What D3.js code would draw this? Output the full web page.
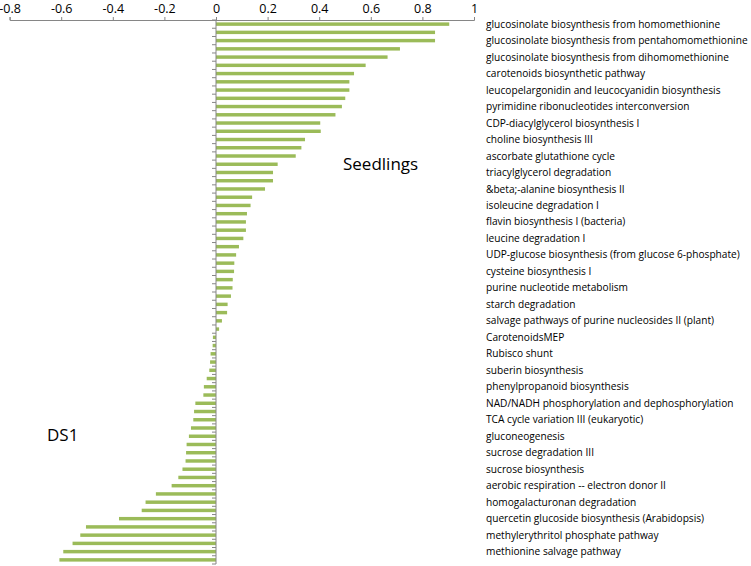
<!DOCTYPE html>
<html>
<head>
<meta charset="utf-8">
<script src="https://cdn.jsdelivr.net/npm/d3@7"></script>
<style>
html,body{margin:0;padding:0;background:#fff;}
svg text{font-family:"Open Sans","Liberation Sans",sans-serif;fill:#000;}
</style>
</head>
<body>
<svg id="chart" width="751" height="566"></svg>
<script>
// Values for all 66 bars, top to bottom
const values = [
  0.904, 0.849, 0.849, 0.713, 0.665, 0.580, 0.535, 0.517, 0.517, 0.501,
  0.488, 0.463, 0.404, 0.406, 0.345, 0.331, 0.309, 0.239, 0.221, 0.221,
  0.190, 0.140, 0.134, 0.120, 0.116, 0.116, 0.106, 0.089, 0.078, 0.071,
  0.070, 0.065, 0.064, 0.058, 0.045, 0.043, 0.023, 0.012, -0.012, -0.013,
  -0.021, -0.023, -0.026, -0.036, -0.047, -0.049, -0.080, -0.085, -0.088,
  -0.097, -0.105, -0.114, -0.116, -0.118, -0.130, -0.146, -0.172, -0.233, -0.273,
  -0.288, -0.376, -0.504, -0.526, -0.556, -0.592, -0.607
];
// Labels shown on every other bar (bars 1, 3, 5, ...)
const labels = [
  "glucosinolate biosynthesis from homomethionine",
  "glucosinolate biosynthesis from pentahomomethionine",
  "glucosinolate biosynthesis from dihomomethionine",
  "carotenoids biosynthetic pathway",
  "leucopelargonidin and leucocyanidin biosynthesis",
  "pyrimidine ribonucleotides interconversion",
  "CDP-diacylglycerol biosynthesis I",
  "choline biosynthesis III",
  "ascorbate glutathione cycle",
  "triacylglycerol degradation",
  "&beta;-alanine biosynthesis II",
  "isoleucine degradation I",
  "flavin biosynthesis I (bacteria)",
  "leucine degradation I",
  "UDP-glucose biosynthesis (from glucose 6-phosphate)",
  "cysteine biosynthesis I",
  "purine nucleotide metabolism",
  "starch degradation",
  "salvage pathways of purine nucleosides II (plant)",
  "CarotenoidsMEP",
  "Rubisco shunt",
  "suberin biosynthesis",
  "phenylpropanoid biosynthesis",
  "NAD/NADH phosphorylation and dephosphorylation",
  "TCA cycle variation III (eukaryotic)",
  "gluconeogenesis",
  "sucrose degradation III",
  "sucrose biosynthesis",
  "aerobic respiration -- electron donor II",
  "homogalacturonan degradation",
  "quercetin glucoside biosynthesis (Arabidopsis)",
  "methylerythritol phosphate pathway",
  "methionine salvage pathway"
];
const xTicks = [-0.8, -0.6, -0.4, -0.2, 0, 0.2, 0.4, 0.6, 0.8, 1];
const seriesLabels = ["Seedlings", "DS1"];

const svg = d3.select("#chart");
const axisColor = "#868686";
const barColor = "#9BBB59";

const x = d3.scaleLinear().domain([-0.8, 1]).range([9.6, 474]);
const y = d3.scaleBand().domain(d3.range(values.length)).range([20, 564]).paddingInner(0.58).paddingOuter(0.29);

// bars
svg.append("g").selectAll("rect").data(values).join("rect")
  .attr("x", d => x(Math.min(0, d)))
  .attr("width", d => Math.abs(x(d) - x(0)))
  .attr("y", (d, i) => y(i))
  .attr("height", y.bandwidth())
  .attr("fill", barColor);

// top axis
const xAxis = d3.axisTop(x).tickValues(xTicks).tickSize(3).tickPadding(4)
  .tickFormat(d => d === 0 ? "0" : String(d));
const gx = svg.append("g").attr("transform", "translate(0,20)").call(xAxis);
gx.select(".domain").attr("stroke", axisColor);
gx.selectAll(".tick line").attr("stroke", axisColor);
gx.selectAll(".tick text").attr("font-size", 12.5).attr("fill", "#000")
  .style("font-family", '"Open Sans","Liberation Sans",sans-serif');

// vertical category axis at x=0
const boundaries = d3.range(values.length + 1).map(i => 20 + i * y.step());
const gy = svg.append("g");
gy.append("line").attr("x1", x(0)).attr("x2", x(0)).attr("y1", 20).attr("y2", 564)
  .attr("stroke", axisColor);
gy.selectAll("line.t").data(boundaries).join("line").attr("class", "t")
  .attr("x1", x(0) - 4).attr("x2", x(0)).attr("y1", d => d).attr("y2", d => d)
  .attr("stroke", axisColor);

// category labels
const lg = svg.append("g");
const lt = lg.selectAll("text").data(labels).join("text")
  .attr("x", 486)
  .attr("y", (d, i) => y(i * 2) + y.bandwidth() / 2)
  .attr("dy", "0.35em")
  .attr("font-size", 12)
  .text(d => d);
// fit longest label width to reference
let maxW = 0;
lt.each(function() { maxW = Math.max(maxW, this.getComputedTextLength()); });
const fs = 12 * 262 / maxW;
lt.attr("font-size", fs);

// series annotations
svg.append("text").attr("x", 343).attr("y", 164).attr("dy", "0.35em")
  .attr("font-size", 17).text(seriesLabels[0]);
svg.append("text").attr("x", 47).attr("y", 435).attr("dy", "0.35em")
  .attr("font-size", 17).text(seriesLabels[1]);
</script>
</body>
</html>
